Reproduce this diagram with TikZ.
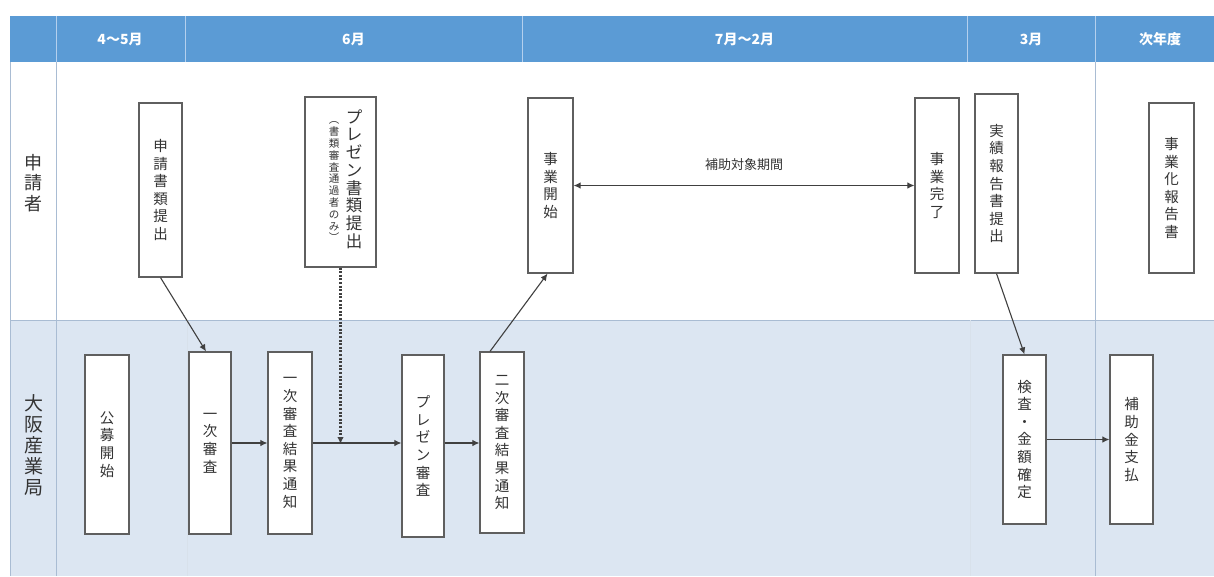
\documentclass[tikz,border=0pt]{standalone}
\usepackage{fontspec}
\newfontfamily\cjk{Noto Sans CJK JP}
\usetikzlibrary{arrows.meta}
\definecolor{hdr}{HTML}{5B9BD5}
\definecolor{lanebg}{HTML}{DCE6F2}
\definecolor{laneline}{HTML}{A9BCD3}
\definecolor{boxgray}{HTML}{5F5F5F}
\definecolor{linegray}{HTML}{404040}
\definecolor{textgray}{HTML}{333333}
\definecolor{hdrline}{HTML}{B4D0EE}
\begin{document}
\begin{tikzpicture}[x=1pt,y=-1pt,
  box/.style={draw=boxgray, line width=1.2pt, fill=white, inner sep=0pt, align=center,
    font=\cjk\fontsize{14.5}{17.6}\selectfont, text=textgray},
  vtxt/.style={inner sep=0pt, align=center, text=textgray},
  conn/.style={draw=linegray, line width=1.1pt, -{Latex[length=7pt,width=6.5pt]}},
  hdrtxt/.style={text=white, font=\cjk\bfseries\fontsize{14}{16}\selectfont},
  lanetxt/.style={text=textgray, align=center, inner sep=0pt}]
\useasboundingbox (0,0) rectangle (1214,576);
\fill[white] (0,0) rectangle (1214,576);
% lanes
\fill[lanebg] (10,320) rectangle (1214,576);
\fill[hdr] (10,16) rectangle (1214,62);
\draw[laneline, line width=0.8pt] (10,62) -- (10,576);
\draw[laneline, line width=1pt] (56,62) -- (56,576);
\draw[laneline, line width=1pt] (10,320) -- (1214,320);
\draw[laneline, line width=0.8pt] (1095,62) -- (1095,576);
\draw[laneline!45, line width=0.6pt] (187,320) -- (187,576);
\draw[laneline!45, line width=0.6pt] (970,320) -- (970,576);
% header dividers
\foreach \xx in {56,185,522,967,1095} \draw[hdrline, line width=0.8pt] (\xx,16) -- (\xx,62);
% header texts
\node[hdrtxt] (h1) at (120,39) {4～5月};
\node[hdrtxt] (h2) at (353.5,39) {6月};
\node[hdrtxt] (h3) at (744.5,39) {7月～2月};
\node[hdrtxt] (h4) at (1031,39) {3月};
\node[hdrtxt] (h5) at (1160,39) {次年度};
% lane labels
\node[lanetxt, font=\cjk\fontsize{18}{20.5}\selectfont] (l1) at (33,183) {申\\請\\者};
\node[lanetxt, font=\cjk\fontsize{19}{21}\selectfont] (l2) at (34,445) {大\\阪\\産\\業\\局};
% applicant lane boxes
\node[box, minimum width=43pt, minimum height=174pt] (a1) at (160.5,190) {申\\請\\書\\類\\提\\出};
\node[box, minimum width=71pt, minimum height=170pt] (a2) at (340.5,182) {};
\node[vtxt, font=\cjk\fontsize{16.5}{17.75}\selectfont] (a2m) at (354,179) {プ\\レ\\ゼ\\ン\\書\\類\\提\\出};
\node[vtxt, font=\cjk\fontsize{10.5}{11.8}\selectfont] (a2s) at (334,182) {︵\\書\\類\\審\\査\\通\\過\\者\\の\\み\\︶};
\node[box, minimum width=45pt, minimum height=175pt] (a3) at (550.5,185.5) {事\\業\\開\\始};
\node[box, minimum width=44pt, minimum height=175pt] (a4) at (937,185.5) {事\\業\\完\\了};
\node[box, minimum width=43pt, minimum height=179pt] (a5) at (996.5,183.5) {実\\績\\報\\告\\書\\提\\出};
\node[box, minimum width=45pt, minimum height=170pt] (a6) at (1171.5,188) {事\\業\\化\\報\\告\\書};
% office lane boxes
\node[box, minimum width=44pt, minimum height=179pt] (b1) at (107,444.5) {公\\募\\開\\始};
\node[box, minimum width=42pt, minimum height=182pt] (b2) at (210,443) {一\\次\\審\\査};
\node[box, minimum width=44pt, minimum height=182pt] (b3) at (290,443) {一\\次\\審\\査\\結\\果\\通\\知};
\node[box, minimum width=42pt, minimum height=182pt] (b4) at (423,446) {プ\\レ\\ゼ\\ン\\審\\査};
\node[box, minimum width=44pt, minimum height=181pt] (b5) at (502,442.5) {二\\次\\審\\査\\結\\果\\通\\知};
\node[box, minimum width=43pt, minimum height=169pt] (b6) at (1024.5,439.5) {検\\査\\・\\金\\額\\確\\定};
\node[box, minimum width=43pt, minimum height=169pt] (b7) at (1131.5,439.5) {補\\助\\金\\支\\払};
% connectors
\draw[conn] (a1.south) -- ([xshift=-4pt]b2.north);
\draw[conn] (b2.east) -- (b3.west);
\draw[conn] (b3.east) -- (b3.east -| b4.west);
\draw[conn, line width=2.4pt, dash pattern=on 2pt off 1.6pt, -{Latex[length=7pt,width=6.5pt]}] (a2.south) -- ([yshift=-1pt]a2.south |- b3.east);
\draw[conn] (b4.east |- b3.east) -- (b3.east -| b5.west);
\draw[conn] ([xshift=-12pt]b5.north) -- ([xshift=-3pt]a3.south);
\draw[conn, {Latex[length=7pt,width=6.5pt]}-{Latex[length=7pt,width=6.5pt]}] (a3.east) -- (a4.west);
\node[lanetxt, font=\cjk\fontsize{13}{15}\selectfont] (per) at (744,165) {補助対象期間};
\draw[conn] (a5.south) -- (b6.north);
\draw[conn] (b6.east) -- (b7.west);
\end{tikzpicture}
\end{document}
